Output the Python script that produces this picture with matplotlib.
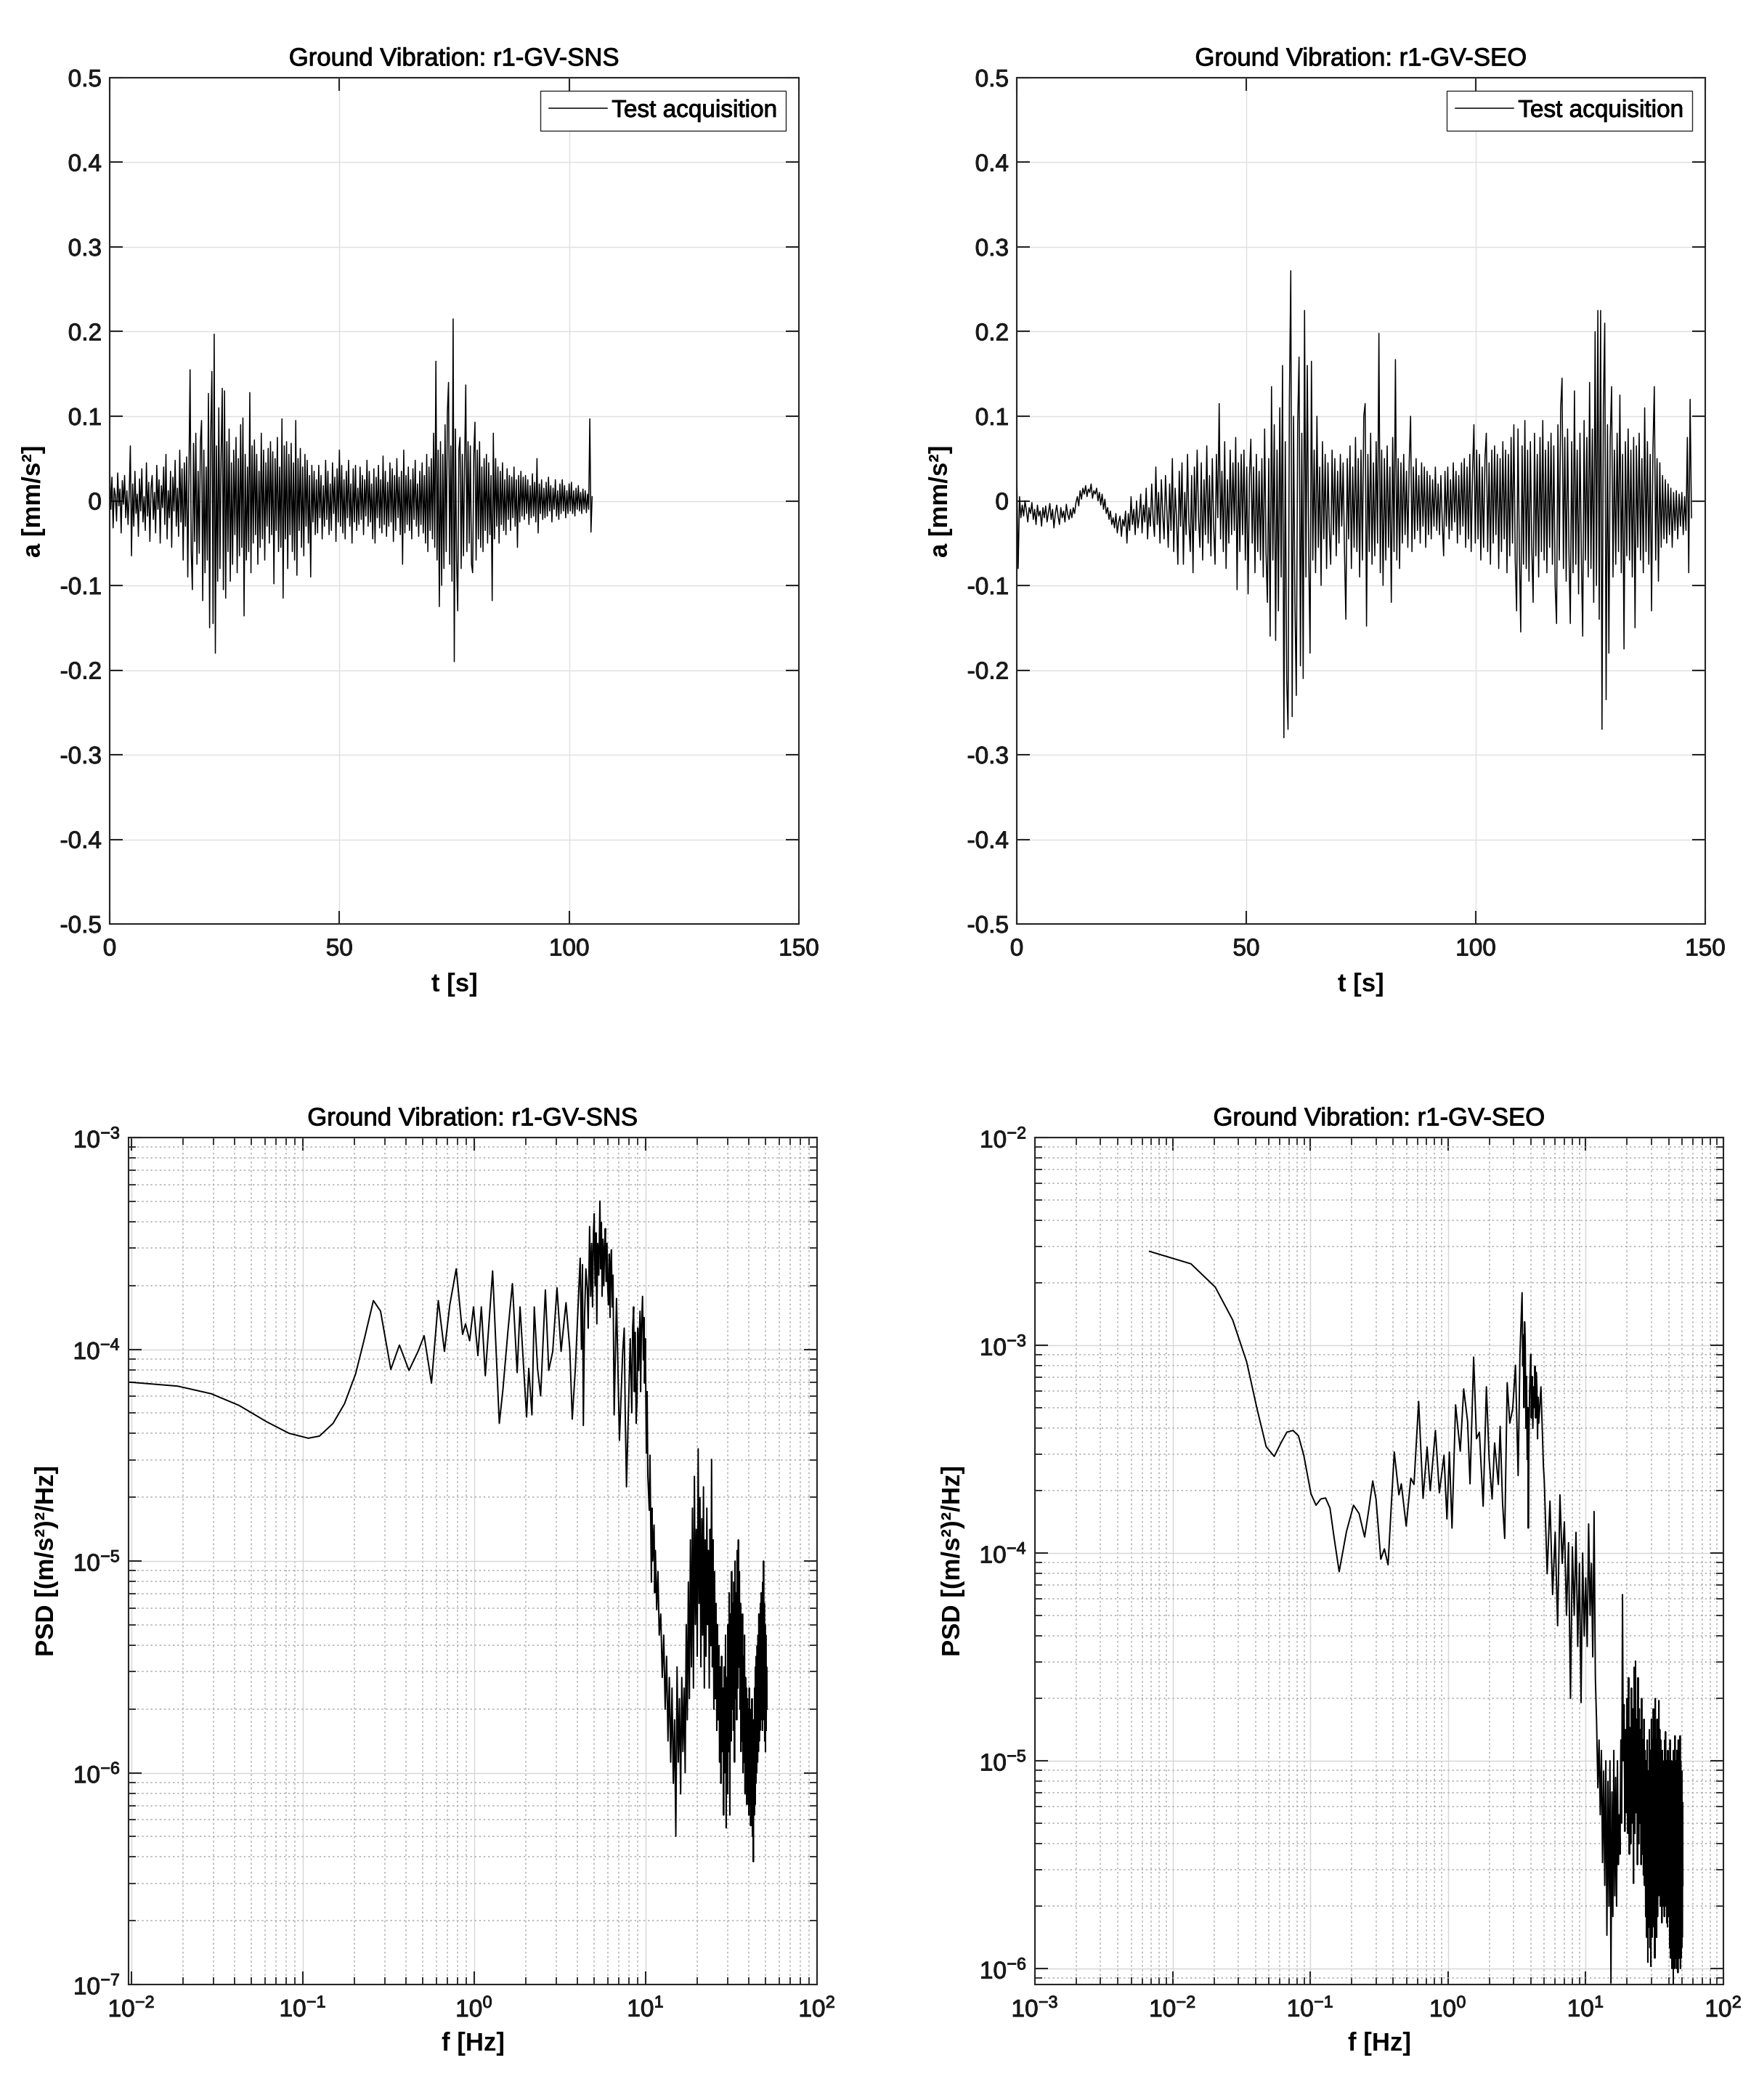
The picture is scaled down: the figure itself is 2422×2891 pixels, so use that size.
import numpy as np
import matplotlib
matplotlib.use("Agg")
import matplotlib.pyplot as plt
import matplotlib.patheffects as pe
from matplotlib.ticker import LogLocator, NullFormatter, FormatStrFormatter

plt.rcParams["font.family"] = ["Liberation Sans", "DejaVu Sans"]
plt.rcParams["mathtext.fontset"] = "custom"
plt.rcParams["mathtext.rm"] = "Liberation Sans"
plt.rcParams["mathtext.it"] = "Liberation Sans:italic"
plt.rcParams["mathtext.bf"] = "Liberation Sans:bold"
plt.rcParams["mathtext.default"] = "regular"
plt.rcParams["axes.unicode_minus"] = False

# ---- time histories (acceleration in 1e-3 mm/s^2) ----
sns_dt = 0.25
sns_acc_milli = [
    40, -10, 28, -32, 15, 6, -24, 33, -6, 14, -38, 24, -4, 30, -20, 12, -28, 8, 65, -65,
    20, -30, 35, -15, 8, -42, 26, -12, 38, -25, 5, -35, 45, -18, 22, -48, 15, 30, -22, 10,
    -38, 42, -10, 25, -50, 18, -8, 40, -28, 55, -45, 12, -20, 35, -55, 28, -12, 48, -30, 15,
    -42, 60, -25, 38, -70, 45, -30, 52, -90, 30, 155, -60, -105, 68, -48, 80, -75, 35, -62, 70,
    95, -118, 60, -85, 40, -70, 127, -150, 80, 153, -145, 197, -180, 65, -95, 110, -80, 50, 133, -105,
    130, -115, 70, -60, 85, -95, 45, -75, 60, -40, 75, -85, 50, -65, 90, -55, 98, -136, 55, -70,
    40, -60, 128, -85, 65, -50, 72, -40, 55, -75, 35, -55, 80, -45, 60, -70, 45, -30, 62, -50,
    70, -40, 58, -98, 50, -35, 75, -60, 40, -55, 97, -115, 65, -45, 70, -80, 55, -40, 68, -60,
    45, -70, 95, -88, 50, -35, 62, -55, 40, -65, 55, -30, 48, -50, 30, -90, 42, -25, 35, -40,
    25, -38, 42, -20, 30, -45, 18, -30, 48, -22, 35, -40, 20, -35, 45, -15, 28, -48, 38, -25,
    60, -30, 42, -38, 25, -45, 35, -20, 48, -30, 20, -50, 38, -25, 42, -35, 15, -28, 40, -22,
    30, -40, 25, -18, 48, -30, 35, -25, 20, -45, 38, -50, 28, -20, 42, -32, 25, -38, 53, -28,
    35, -42, 22, -30, 45, -25, 38, -48, 30, -35, 50, -20, 28, -40, 35, -75, 60, -38, 30, -28,
    40, -35, 25, -45, 38, -22, 48, -30, 20, -42, 35, -28, 45, -38, 30, -50, 55, -60, 40, -35,
    50, -45, 80, -55, 165, -70, 60, -125, 70, -100, 55, -80, 90, -60, 105, 140, -75, 65, -95, 215,
    -190, 85, -70, -130, 60, 75, -80, 55, -65, 45, 137, -60, 70, -50, 65, -75, -85, 55, 93, -70,
    60, -45, 70, -55, 40, -60, 50, -35, 55, -50, 45, -40, 30, -118, 80, -45, 50, -30, 40, -50,
    35, -28, 45, -35, 25, -40, 38, -22, 30, -35, 28, -20, 40, -30, 25, -55, 30, -25, 35, -18,
    28, -22, 30, -15, 25, -28, 18, -20, 32, -18, 22, -25, 50, -38, 20, -15, 25, -22, 15, -20,
    22, -18, 28, -12, 18, -25, 15, -10, 25, -18, 12, -22, 20, -15, 25, -12, 18, -20, 12, -15,
    20, -12, 22, -15, 12, -18, 15, -10, 18, -12, 10, -15, 14, -10, 12, -14, 8, -10, 97, -37,
    5,
]

seo_dt = 0.3
seo_acc_milli = [
    35, -80, 5, -20, -5, -18, 0, -12, -25, -8,
    -15, -2, -22, -10, -28, -5, -18, -12, -30, -8,
    -20, -6, -25, -14, -3, -22, -10, -32, -15, -5,
    -18, -28, -8, -20, -12, -25, -4, -16, -22, -10,
    -20, -8, -15, -2, 5, -6, 12, 2, 15, 8,
    18, 5, 14, 10, 20, 3, 12, 8, 15, 0,
    10, -5, 8, -10, 2, -15, -8, -22, -12, -28,
    -20, -32, -15, -38, -25, -18, -42, -22, -30, -12,
    -50, -15, -35, 5, -28, -10, -40, 0, -32, -18,
    8, -38, -5, -25, 15, -45, -8, -30, 20, -20,
    -42, 40, -28, 10, -50, 25, -15, -45, 30, -10,
    -55, 20, -35, 50, -60, 15, -20, -75, 35, -30,
    45, -75, 10, -40, 55, -25, -60, 30, -85, 40,
    -35, 60, -20, -55, 45, -70, 25, -40, 65, -50,
    30, -65, 50, -30, -75, 55, -20, 115, -45, 35,
    -60, 70, -80, 25, -50, 60, -40, 45, -35, 75,
    -105, 45, -60, 55, -40, 60, -70, 40, -110, 30,
    73, -50, 40, -85, 55, -60, 35, -70, 50, -90,
    85, -60, -120, 50, -160, 135, -70, 90, -165, 60,
    -130, 110, -90, 160, -280, 70, -210, -270, 120, 272,
    -255, 100, -120, -230, 90, 170, -195, 80, -210, 225,
    -90, 160, -60, -180, 165, -70, 60, -85, 100, -55,
    40, -100, 70, -45, 55, -80, 45, -35, -75, 60,
    -40, 50, -65, 35, -50, 55, -30, 45, -60, -140,
    50, -45, 65, -80, 40, -55, 75, -60, 50, -90,
    60, -70, 100, 115, -148, 55, -60, 80, -75, 45,
    -65, 70, -50, 198, -85, 60, -100, 50, -70, 65,
    -55, 40, -120, 75, -60, 167, -70, 50, -80, 45,
    -50, 55, -40, 35, -55, 45, 100, -60, 40, -45,
    50, -35, 30, -50, 45, -30, 40, -55, 35, -40,
    30, -45, 25, -30, 40, -35, 20, -40, 30, -25,
    -65, 35, -30, 40, -45, 25, -35, 45, -25, 35,
    -50, 30, -40, 45, -30, 50, -55, 40, -45, 55,
    -60, 35, 90, -50, 60, -45, 55, -70, 40, -55,
    50, 80, -60, 45, -75, 60, -50, 65, -40, 55,
    -80, 50, -60, 70, -45, 60, -85, 55, -65, 75,
    -50, 90, -70, -130, 85, -60, -155, 65, -75, 95,
    -80, 60, -95, 70, -55, -120, 80, -65, 55, -90,
    75, -60, 95, -70, 60, -85, 70, -55, 80, -75,
    65, -100, -145, 90, -70, 110, 145, -80, 75, -95,
    85, -60, -145, 70, -85, 130, -75, 60, -110, 80,
    -65, -160, 95, -70, 75, -90, 140, -80, 85, -120,
    200, -100, 225, -140, 225, -270, 110, 210, -235, 90,
    -180, 75, 135, -90, 60, -75, 80, -60, 125, -85,
    55, -175, 70, -65, 85, -70, 60, -90, 75, -150,
    65, -55, 80, -70, 50, -85, 110, -60, 70, -75,
    55, -130, 60, 135, -70, 50, -95, 45, -55, 30,
    -45, 25, -50, 20, -40, 15, -55, 10, -35, 12,
    -45, 8, -30, 10, -40, 5, -35, 75, -85, 120,
    -20,
]

# ---- PSD r1-GV-SNS: read points (Hz, log10 PSD) then dense band on a 0.25 Hz grid ----
psd_sns_f = [
    0.00966, 0.0186, 0.0292, 0.0424, 0.0617, 0.0832, 0.1076, 0.125, 0.15, 0.175,
    0.203, 0.227, 0.258, 0.284, 0.326, 0.366, 0.416, 0.47, 0.51, 0.563,
    0.617, 0.67, 0.72, 0.785, 0.855, 0.89, 0.94, 0.99, 1.05, 1.10,
    1.16, 1.28, 1.40, 1.47, 1.57, 1.67, 1.78, 1.85, 2.02, 2.08,
    2.17, 2.24, 2.34, 2.44, 2.60, 2.72, 2.87, 3.04, 3.21, 3.43,
    3.61, 3.73, 3.89,
    4.15, 4.22, 4.28, 4.33, 4.40, 4.48, 4.57, 4.62, 4.71, 4.78,
    4.84, 4.90, 4.96, 5.01, 5.07, 5.13, 5.19, 5.25, 5.33, 5.41,
    5.47, 5.52, 5.57, 5.64, 5.70, 5.76, 5.82, 5.88, 5.95, 6.01,
    6.07, 6.13, 6.20, 6.25, 6.31, 6.38, 6.45, 6.55,
    6.76, 7.03, 7.35, 7.50, 7.60, 7.73, 8.13, 8.30, 8.40, 8.51,
    8.60, 8.70, 8.80, 8.91, 9.00, 9.10, 9.27, 9.35, 9.45, 9.59,
    9.70, 9.78, 9.86, 9.95, 10.1, 10.2, 10.3, 10.5, 10.6, 10.8,
    10.9, 11.0, 11.2, 11.3, 11.4, 11.6, 11.8, 12.0,
]
psd_sns_logp = [
    -4.155, -4.174, -4.21, -4.265, -4.343, -4.397, -4.42, -4.41, -4.35, -4.257,
    -4.117, -3.96, -3.77, -3.82, -4.095, -3.98, -4.10, -4.01, -3.936, -4.16,
    -3.77, -4.01, -3.79, -3.62, -3.93, -3.88, -3.96, -3.80, -4.03, -3.80,
    -4.125, -3.63, -4.35, -4.19, -3.92, -3.69, -4.11, -3.80, -4.32, -4.09,
    -4.31, -3.80, -4.09, -4.22, -3.72, -4.10, -4.01, -3.71, -4.01, -3.78,
    -4.00, -4.33, -4.09,
    -3.57, -4.0, -3.6, -4.36, -3.85, -3.62, -3.72, -3.9, -3.42, -3.75,
    -3.5, -3.80, -3.45, -3.36, -3.7, -3.45, -3.88, -3.5, -3.65, -3.30,
    -3.62, -3.4, -3.75, -3.48, -3.7, -3.52, -3.43, -3.68, -3.5, -3.72,
    -3.79, -3.55, -3.85, -3.6, -3.53, -3.8, -3.65, -4.31,
    -3.76, -4.43, -4.01, -3.9, -4.3, -4.65, -3.95, -4.3, -3.9, -3.80,
    -4.2, -3.92, -4.35, -4.24, -3.9, -4.1, -3.82, -4.2, -3.9, -3.75,
    -4.05, -3.85, -4.16, -3.95, -4.49, -4.2, -4.6, -4.76, -4.5, -5.10,
    -4.75, -5.0, -4.83, -5.15, -4.95, -5.23, -5.05, -5.35,
]
psd_sns_band_f0 = 12.25
psd_sns_band_df = 0.25
psd_sns_band_logp = [
    -5.25, -5.55, -5.35, -5.7, -5.45, -5.85, -5.55, -5.95,
    -5.6, -6.05, -5.75, -6.3, -5.5, -5.95, -5.65, -6.1,
    -5.55, -5.9, -5.6, -6.0, -5.3, -5.75, -5.1, -5.65,
    -4.9, -5.5, -4.75, -5.6, -4.6, -5.3, -4.85, -5.45,
    -4.47, -5.2, -4.7, -5.5, -4.8, -5.35, -4.65, -5.6,
    -4.9, -5.45, -4.75, -5.3, -4.95, -5.6, -4.85, -5.4,
    -4.52, -5.5, -4.9, -5.7, -5.05, -5.65, -5.2, -5.8,
    -5.3, -5.75, -5.4, -5.95, -5.5, -6.05, -5.45, -5.9,
    -5.6, -6.2, -5.5, -6.0, -5.35, -6.26, -5.55, -6.1,
    -5.3, -5.9, -5.15, -6.2, -5.25, -5.85, -5.05, -5.7,
    -5.2, -5.8, -5.1, -5.95, -5.0, -5.65, -5.15, -5.75,
    -4.95, -5.6, -4.9, -5.5, -5.05, -5.7, -5.2, -5.9,
    -5.3, -5.85, -5.25, -6.0, -5.45, -5.95, -5.35, -6.1,
    -5.55, -6.05, -5.6, -6.15, -5.65, -6.1, -5.7, -6.2,
    -5.6, -6.15, -5.75, -6.25, -5.7, -6.2, -5.65, -6.3,
    -5.8, -6.42, -5.75, -6.2, -5.6, -6.15, -5.5, -6.05,
    -5.45, -6.0, -5.4, -5.95, -5.35, -5.9, -5.25, -5.85,
    -5.3, -5.8, -5.2, -5.75, -5.15, -5.7, -5.25, -5.8,
    -5.1, -5.75, -5.0, -5.6, -5.2, -5.85, -5.3, -5.9,
    -5.35, -5.8, -5.5, -5.7,
]

# ---- PSD r1-GV-SEO ----
psd_seo_f = [
    0.0068, 0.0136, 0.0204, 0.0273, 0.0345, 0.041, 0.0478, 0.0547, 0.0612, 0.0676,
    0.0749, 0.082, 0.0897, 0.101, 0.11, 0.119, 0.129, 0.139, 0.148, 0.162,
    0.183, 0.206, 0.226, 0.248, 0.266, 0.284, 0.30, 0.325, 0.345, 0.367,
    0.383, 0.407, 0.44, 0.458, 0.497, 0.537, 0.566, 0.612, 0.659, 0.705,
    0.743, 0.81, 0.865, 0.935, 0.982, 1.023, 1.069, 1.135, 1.227, 1.30,
    1.387, 1.445, 1.535, 1.61, 1.69, 1.80, 1.90, 1.99, 2.09, 2.18,
    2.32, 2.39, 2.49, 2.58, 2.69, 2.81, 2.95, 3.09, 3.23, 3.33,
    3.45, 3.49, 3.52, 3.56, 3.60, 3.64, 3.68, 3.72, 3.76, 3.80,
    3.83, 3.87, 3.92, 3.99, 4.03, 4.08, 4.13, 4.19, 4.24, 4.28,
    4.33, 4.37, 4.42, 4.47, 4.51, 4.56, 4.73, 4.93,
]
psd_seo_logp = [
    -2.548, -2.608, -2.72, -2.878, -3.08, -3.305, -3.488, -3.535, -3.47, -3.418,
    -3.41, -3.436, -3.53, -3.714, -3.77, -3.74, -3.735, -3.784, -3.915, -4.09,
    -3.897, -3.77, -3.81, -3.923, -3.79, -3.653, -3.74, -4.03, -3.98, -4.057,
    -3.83, -3.514, -3.72, -3.667, -3.87, -3.64, -3.67, -3.27, -3.737, -3.49,
    -3.70, -3.41, -3.71, -3.53, -3.836, -3.514, -3.88, -3.287, -3.51, -3.21,
    -3.366, -3.667, -3.057, -3.45, -3.418, -3.775, -3.20, -3.55, -3.74, -3.47,
    -3.67, -3.39, -3.76, -3.93, -3.18, -3.375, -3.305, -3.096, -3.627, -3.044,
    -2.747, -3.1, -2.95, -3.3, -2.887, -3.0, -3.4, -3.15, -3.55, -3.3,
    -3.88, -3.45, -3.2, -3.044, -3.35, -3.15, -3.4, -3.20, -3.3, -3.1,
    -3.35, -3.13, -3.2, -3.45, -3.25, -3.375, -3.20, -3.584,
]
psd_seo_band_f0 = 5.0
psd_seo_band_df = 0.25
psd_seo_band_logp = [
    -3.65, -4.1, -3.75, -4.2, -3.9, -4.35, -3.72, -4.05,
    -3.85, -4.3, -3.95, -4.7, -3.97, -4.3, -3.9, -4.45,
    -4.05, -4.72, -4.0, -4.4, -4.12, -4.45, -3.86, -4.3,
    -4.05, -4.5, -3.8, -4.6, -4.82, -5.13, -4.9, -5.26,
    -4.95, -5.49, -5.05, -5.6, -5.0, -5.84, -5.1, -5.7,
    -5.0, -6.07, -5.15, -5.75, -4.95, -5.65, -5.08, -5.7,
    -5.0, -5.5, -5.26, -5.45, -4.9, -5.3, -4.2, -5.0,
    -4.73, -5.34, -4.85, -5.25, -4.7, -5.35, -4.6, -5.45,
    -4.84, -5.4, -4.65, -5.3, -4.75, -5.59, -4.55, -5.35,
    -4.52, -5.25, -4.8, -5.5, -4.6, -5.4, -4.75, -5.3,
    -4.85, -5.5, -4.7, -5.45, -4.9, -5.55, -4.8, -5.6,
    -4.95, -5.75, -5.0, -5.85, -4.9, -5.97, -5.05, -5.8,
    -4.85, -5.9, -4.95, -5.99, -4.8, -5.85, -4.9, -5.75,
    -4.75, -5.8, -4.85, -5.95, -4.7, -5.7, -4.9, -5.85,
    -4.8, -5.75, -4.95, -5.65, -4.71, -5.6, -4.85, -5.7,
    -4.9, -5.65, -5.0, -5.78, -4.95, -5.7, -5.05, -5.6,
    -5.0, -5.75, -4.9, -5.65, -4.86, -5.7, -5.0, -5.78,
    -5.05, -5.8, -4.95, -5.7, -5.1, -5.75, -5.0, -5.9,
    -4.9, -5.95, -5.05, -5.85, -5.0, -6.0, -5.1, -5.9,
    -5.05, -6.08, -4.95, -5.95, -5.1, -6.0, -4.88, -5.9,
    -5.0, -5.95, -5.1, -6.0, -4.95, -5.9, -5.05, -6.02,
    -4.9, -5.85, -5.0, -5.95, -5.05, -5.9, -4.88, -6.0,
    -5.0, -5.95, -5.1, -5.9, -5.05, -5.85, -5.2, -5.6,
]

titles = ["Ground Vibration: r1-GV-SNS", "Ground Vibration: r1-GV-SEO"]
time_yticks = [-0.5, -0.4, -0.3, -0.2, -0.1, 0.0, 0.1, 0.2, 0.3, 0.4, 0.5]
time_xticks = [0, 50, 100, 150]

INK = "#262626"
W, H = 2422, 2891
heavy = [pe.withStroke(linewidth=0.7, foreground="#1a1a1a")]


def build_psd(f_pts, logp_pts, f0, df, band_logp):
    n = min(len(f_pts), len(logp_pts))
    f_band = f0 + df * np.arange(len(band_logp))
    f = np.concatenate([np.array(f_pts[:n]), f_band])
    p = 10.0 ** np.concatenate([np.array(logp_pts[:n]), np.array(band_logp)])
    return f, p


def frame(ax):
    for s in ax.spines.values():
        s.set_color(INK)
        s.set_linewidth(1.5)
    ax.set_axisbelow(True)


def draw_time(ax, dt, acc_milli, title):
    a = np.array(acc_milli) / 1000.0
    t = np.arange(len(a)) * dt
    ax.plot(t, a, color="k", lw=1.1, label="Test acquisition")
    ax.set_xlim(0, 150)
    ax.set_ylim(-0.5, 0.5)
    ax.set_xticks(time_xticks)
    ax.set_yticks(time_yticks)
    ax.yaxis.set_major_formatter(FormatStrFormatter("%g"))
    ax.grid(True, color="#dfdfdf", lw=1.0)
    ax.tick_params(direction="in", length=13, width=1.5, top=True, right=True,
                   labelsize=24, color=INK, labelcolor="#1a1a1a")
    ax.tick_params(axis="x", pad=14)
    ax.tick_params(axis="y", pad=8)
    ax.set_title(title, fontsize=25, pad=12, path_effects=heavy)
    ax.set_xlabel("t [s]", fontsize=25, fontweight="bold", labelpad=12)
    ax.set_ylabel("a [mm/s²]", fontsize=25, fontweight="bold", labelpad=14)
    leg = ax.legend(loc="upper right", fontsize=24, fancybox=False, edgecolor=INK,
                    handlelength=2.4, handletextpad=0.2, borderaxespad=0.55,
                    borderpad=0.35, framealpha=1)
    leg.get_frame().set_linewidth(1.0)
    for txt in leg.get_texts():
        txt.set_path_effects(heavy)
    frame(ax)


def draw_psd(ax, f, p, title, xlim, ylim):
    ax.loglog(f, p, color="k", lw=1.4)
    ax.set_xlim(*xlim)
    ax.set_ylim(*ylim)
    for axis in (ax.xaxis, ax.yaxis):
        axis.set_major_locator(LogLocator(base=10, numticks=20))
        axis.set_minor_locator(LogLocator(base=10, subs=np.arange(2, 10), numticks=200))
        axis.set_minor_formatter(NullFormatter())
    ax.grid(True, which="major", color="#d6d6d6", lw=1.0)
    ax.grid(True, which="minor", color="#a9a9a9", lw=1.1, linestyle=(0, (1.5, 2.5)))
    ax.tick_params(which="major", direction="in", length=13, width=1.5, top=True, right=True,
                   labelsize=24, color=INK, labelcolor="#1a1a1a")
    ax.tick_params(which="minor", direction="in", length=7, width=1.3, top=True, right=True,
                   color=INK)
    ax.tick_params(axis="x", which="major", pad=12)
    ax.tick_params(axis="y", which="major", pad=8)
    ax.set_title(title, fontsize=25, pad=12, path_effects=heavy)
    ax.set_xlabel("f [Hz]", fontsize=25, fontweight="bold", labelpad=10)
    ax.set_ylabel("PSD [(m/s²)²/Hz]", fontsize=25, fontweight="bold", labelpad=14)
    frame(ax)


fig = plt.figure(figsize=(W / 100, H / 100), dpi=100)
fig.patch.set_facecolor("white")

ax1 = fig.add_axes([151 / W, 1 - 1272 / H, 949 / W, 1165 / H])
ax2 = fig.add_axes([1400 / W, 1 - 1272 / H, 948 / W, 1165 / H])
ax3 = fig.add_axes([177 / W, 1 - 2732 / H, 948 / W, 1166 / H])
ax4 = fig.add_axes([1425 / W, 1 - 2732 / H, 948 / W, 1166 / H])

draw_time(ax1, sns_dt, sns_acc_milli, titles[0])
draw_time(ax2, seo_dt, seo_acc_milli, titles[1])

f_sns, p_sns = build_psd(psd_sns_f, psd_sns_logp, psd_sns_band_f0, psd_sns_band_df, psd_sns_band_logp)
f_seo, p_seo = build_psd(psd_seo_f, psd_seo_logp, psd_seo_band_f0, psd_seo_band_df, psd_seo_band_logp)

draw_psd(ax3, f_sns, p_sns, titles[0], (10 ** -2.017, 1e2), (1e-7, 1e-3))
draw_psd(ax4, f_seo, p_seo, titles[1], (1e-3, 1e2), (10 ** -6.077, 1e-2))

# thicken tick labels a little once they exist
fig.canvas.draw()
for ax in (ax1, ax2, ax3, ax4):
    for lbl in ax.get_xticklabels() + ax.get_yticklabels():
        lbl.set_path_effects(heavy)

fig.savefig("out.png", dpi=100, facecolor="white")
